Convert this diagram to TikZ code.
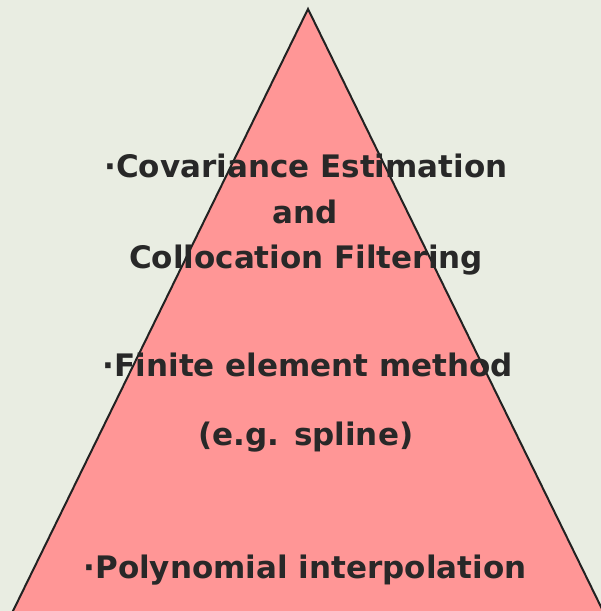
\documentclass[tikz,border=0pt]{standalone}
\usepackage{fontspec}
\setmainfont{DejaVu Sans}
\definecolor{bgcol}{RGB}{233,237,226}
\definecolor{pyrfill}{RGB}{255,150,150}
\definecolor{pyrline}{RGB}{34,34,34}
\definecolor{txtcol}{RGB}{40,40,40}
\tikzset{
  lbl/.style={text=txtcol, font=\bfseries\fontsize{31}{36}\selectfont, inner sep=0pt, anchor=base},
}
\begin{document}
\begin{tikzpicture}[x=1pt,y=-1pt]
\fill[bgcol] (0,0) rectangle (601,611);
\useasboundingbox (0,0) rectangle (601,611);
\coordinate (apex) at (308,9);
\coordinate (bl) at (12,613);
\coordinate (br) at (604,613);
\filldraw[fill=pyrfill, draw=pyrline, line width=2pt, line join=miter] (bl) -- (apex) -- (br);
\node[lbl] (t1) at (306,177) {·Covariance Estimation};
\node[lbl] (t2) at (305,223) {and};
\node[lbl] (t3) at (306,268) {Collocation Filtering};
\node[lbl] (t4) at (308,376) {·Finite element method};
\node[lbl] (t5) at (306,445) {(e.g. spline)};
\node[lbl] (t6) at (305,578) {·Polynomial interpolation};
\end{tikzpicture}
\end{document}
